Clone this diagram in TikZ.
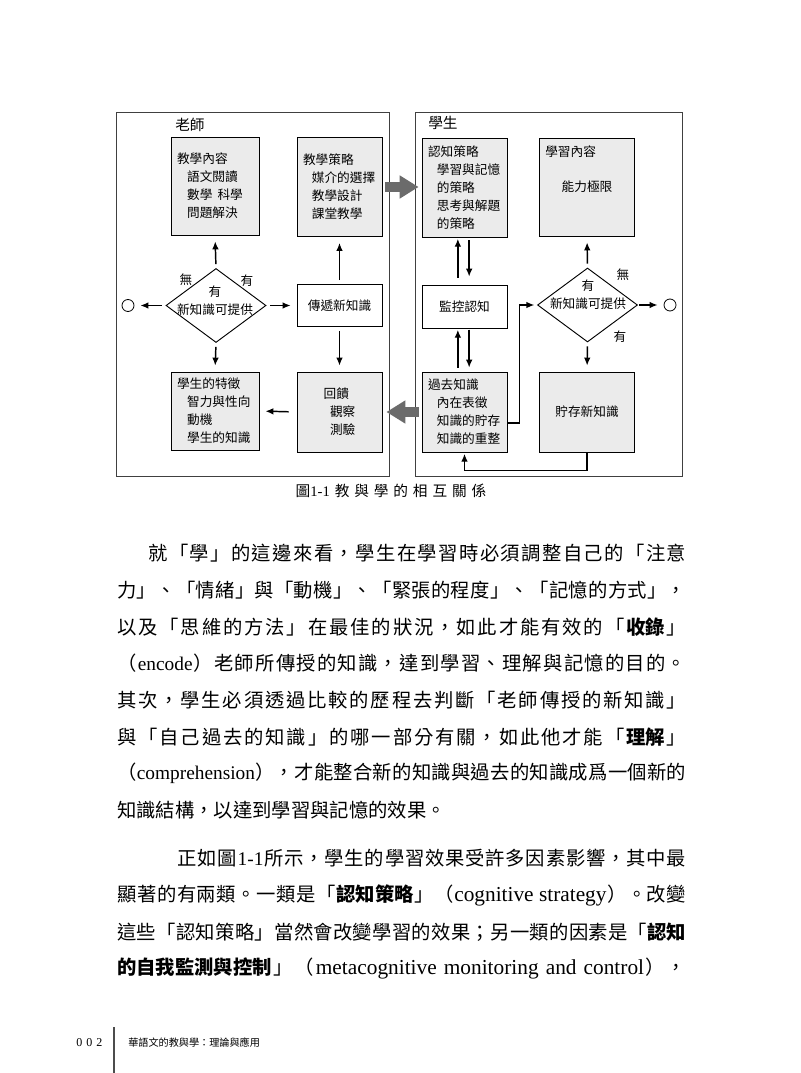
\documentclass[tikz,border=0pt]{standalone}
\usepackage{fontspec}
\usepackage{tikz}
\usetikzlibrary{arrows.meta, shapes.geometric}
\setmainfont{Noto Sans CJK TC}
\newfontfamily\latin{Liberation Serif}
\newcommand\bodyfont{\fontsize{14.5}{18}\selectfont}
\newcommand\boxfont{\fontsize{9.5}{13.5}\selectfont}
\newcommand\latbig{\latin\fontsize{16}{18}\selectfont}
\makeatletter
\def\spread@stop{\spread@stop}
\def\spread@stopstr{\spread@stop}
\def\spread@#1{\def\spread@arg{#1}\ifx\spread@arg\spread@stopstr\else{#1}\hskip0pt plus 1fil\relax\expandafter\spread@\fi}
\newcommand\spreadout[1]{\spread@#1\spread@stop\unskip}
\makeatother
\newcommand\jline[2]{\hbox to #1{\spreadout{#2}}}

\begin{document}
\begin{tikzpicture}[
    x=0.75pt, y=-0.75pt,
    panel/.style={draw=black!75, line width=0.6pt, inner sep=0pt},
    shaded/.style={draw, line width=0.6pt, fill=black!8, font=\boxfont, inner sep=0pt, inner xsep=4.5pt, align=left},
    plainbox/.style={draw, line width=0.6pt, fill=white, font=\boxfont, inner sep=0pt},
    choice/.style={diamond, draw, line width=0.7pt, inner sep=0pt, minimum width=75pt, minimum height=55.5pt},
    endpoint/.style={circle, draw, line width=0.6pt, minimum size=9pt, inner sep=0pt},
    tag/.style={font=\boxfont, inner sep=0pt},
    head/.style={font=\fontsize{11}{13}\selectfont, inner sep=0pt, anchor=west},
    arrow/.style={-{Latex[length=6pt,width=5pt]}, line width=1.1pt, shorten <=3pt, shorten >=4.5pt},
    bigarrow/.style={-{Triangle[length=14.25pt,width=16.5pt]}, line width=7.5pt, draw=black!58},
    bodyline/.style={anchor=west, inner sep=0pt, font=\bodyfont}
]
\path[fill=white, use as bounding box] (0,0) rectangle (800,1073);

\node[panel, minimum width=204.75pt, minimum height=273pt] (teacher) at (252.5,294) {};
\node[panel, minimum width=200.25pt, minimum height=273pt] (learner) at (548.5,294) {};
\node[head] (teachername) at (175,125) {老師};
\node[head] (learnername) at (428,123) {學生};

\node[shaded, minimum width=66pt, minimum height=73.5pt, text width=57pt] (content) at (215,186) {教學內容\\\hspace{0.8em}語文閱讀\\\hspace{0.8em}數學\hspace{0.4em}科學\\\hspace{0.8em}問題解決};
\node[shaded, minimum width=63.75pt, minimum height=74.25pt, text width=54.75pt] (plan) at (339.5,187) {教學策略\\\hspace{0.7em}媒介的選擇\\\hspace{0.7em}教學設計\\\hspace{0.7em}課堂教學};
\node[choice] (ask) at (216,305.5) {};
\node[tag, align=center] (askq) at (215,301) {有\\新知識可提供};
\node[tag] (asknone) at (186,280) {無};
\node[tag] (askyes) at (247,281) {有};
\node[endpoint] (stop) at (128,305.5) {};
\node[plainbox, minimum width=63.75pt, minimum height=31.5pt] (deliver) at (339.5,305.5) {傳遞新知識};
\node[shaded, minimum width=66pt, minimum height=58.5pt, text width=57pt] (traits) at (215,411) {學生的特徵\\\hspace{0.8em}智力與性向\\\hspace{0.8em}動機\\\hspace{0.8em}學生的知識};
\node[shaded, minimum width=63.75pt, minimum height=60pt] (feedback) at (339.5,412) {回饋\\\hspace{0.5em}觀察\\\hspace{0.5em}測驗};

\node[shaded, minimum width=63.75pt, minimum height=74.25pt, text width=54.75pt] (strategy) at (464.5,187.5) {認知策略\\\hspace{0.7em}學習與記憶\\\hspace{0.7em}的策略\\\hspace{0.7em}思考與解題\\\hspace{0.7em}的策略};
\node[shaded, minimum width=71.25pt, minimum height=73.5pt] (scope) at (587,187) {能力極限};
\node[tag, anchor=west] (scopename) at (545,152) {學習內容};
\node[plainbox, minimum width=63.75pt, minimum height=32.25pt] (monitor) at (464.5,306.5) {監控認知};
\node[choice] (ask2) at (587.5,305) {};
\node[tag, align=center] (ask2q) at (588,295) {有\\新知識可提供};
\node[tag] (ask2none) at (623,275) {無};
\node[tag] (ask2yes) at (620,337) {有};
\node[endpoint] (stop2) at (670,305) {};
\node[shaded, minimum width=63.75pt, minimum height=60pt, text width=54.75pt] (prior) at (464.5,412) {過去知識\\\hspace{0.7em}內在表徵\\\hspace{0.7em}知識的貯存\\\hspace{0.7em}知識的重整};
\node[shaded, minimum width=71.25pt, minimum height=60pt] (store) at (587,412) {貯存新知識};

\draw[arrow] (ask.north) -- (content.south);
\draw[arrow] (ask.south) -- (traits.north);
\draw[arrow] (ask.west) -- (stop.east);
\draw[arrow] (ask.east) -- (deliver.west);
\draw[arrow] (deliver.north) -- (plan.south);
\draw[arrow] (deliver.south) -- (feedback.north);
\draw[arrow, shorten <=6pt] (feedback.west) -- (traits.east);

\draw[arrow, shorten <=5pt, shorten >=1pt] ([xshift=-5pt]monitor.north) -- ([xshift=-5pt]strategy.south);
\draw[arrow, shorten <=2pt, shorten >=6pt] ([xshift=3.5pt]strategy.south) -- ([xshift=3.5pt]monitor.north);
\draw[arrow, shorten <=3pt, shorten >=1pt] ([xshift=-5pt]prior.north) -- ([xshift=-5pt]monitor.south);
\draw[arrow, shorten <=1pt, shorten >=3pt] ([xshift=3.5pt]monitor.south) -- ([xshift=3.5pt]prior.north);
\draw[arrow] (ask2.north) -- (scope.south);
\draw[arrow] (ask2.south) -- (store.north);
\draw[arrow, shorten <=1pt] (ask2.east) -- (stop2.west);
\draw[arrow, shorten <=0pt, shorten >=2pt] ([yshift=-8.25pt]prior.east) -- ++(9pt,0) |- (ask2.west);
\draw[arrow, shorten <=0pt, shorten >=1pt] (store.south) -- ++(0,-13.5pt) -| (prior.south);

\draw[bigarrow] ([xshift=-3pt]teacher.east |- plan.east) -- ([xshift=3pt]learner.west |- plan.east);
\draw[bigarrow] ([xshift=3pt]learner.west |- feedback.east) -- ([xshift=-2.25pt]teacher.east |- feedback.east);

\node[inner sep=0pt, font=\fontsize{11}{13}\selectfont] (caption) at (391,491) {\jline{143pt}{{圖{\latin 1-1}}教與學的相互關係}};

\node[bodyline] (line1) at (148,553) {\jline{403.5pt}{就「學」的這邊來看，學生在學習時必須調整自己的「注意}};
\node[bodyline] (line2) at (117,590) {\jline{426.75pt}{力」、「情緒」與「動機」、「緊張的程度」、「記憶的方式」，}};
\node[bodyline] (line3) at (117,627) {\jline{426.75pt}{以及「思維的方法」在最佳的狀況，如此才能有效的「{\bfseries 收錄}」}};
\node[bodyline] (line4) at (117,663) {\jline{426.75pt}{（{\latin encode}）老師所傳授的知識，達到學習、理解與記憶的目的。}};
\node[bodyline] (line5) at (117,700) {\jline{426.75pt}{其次，學生必須透過比較的歷程去判斷「老師傳授的新知識」}};
\node[bodyline] (line6) at (117,737) {\jline{426.75pt}{與「自己過去的知識」的哪一部分有關，如此他才能「{\bfseries 理解}」}};
\node[bodyline] (line7) at (117,773) {\jline{426.75pt}{（{\latin comprehension}），才能整合新的知識與過去的知識成爲一個新的}};
\node[bodyline] (line8) at (117,810) {知識結構，以達到學習與記憶的效果。};
\node[bodyline] (line9) at (177,858) {\jline{381.75pt}{正如圖{\latin 1-1}所示，學生的學習效果受許多因素影響，其中最}};
\node[bodyline] (line10) at (117,895) {\jline{426.75pt}{顯著的有兩類。一類是「{\bfseries 認知策略}」（{\latbig cognitive strategy}）。改變}};
\node[bodyline] (line11) at (117,932) {\jline{426.75pt}{這些「認知策略」當然會改變學習的效果；另一類的因素是「{\bfseries 認知}}};
\node[bodyline] (line12) at (117,968) {\jline{426.75pt}{{\bfseries 的自我監測與控制}」（{\latbig metacognitive\ }{\latbig monitoring\ }{\latbig and\ }{\latbig control}），}};

\node[inner sep=0pt, anchor=west, font=\latin\fontsize{9}{11}\selectfont] (pageno) at (76,1043) {0\hspace{3pt}0\hspace{3pt}2};
\draw[line width=1pt, black!70] (114,1027) -- (114,1073);
\node[inner sep=0pt, anchor=west, font=\fontsize{7.6}{9}\selectfont] (booktitle) at (128,1043) {華語文的教與學：理論與應用};
\end{tikzpicture}
\end{document}
